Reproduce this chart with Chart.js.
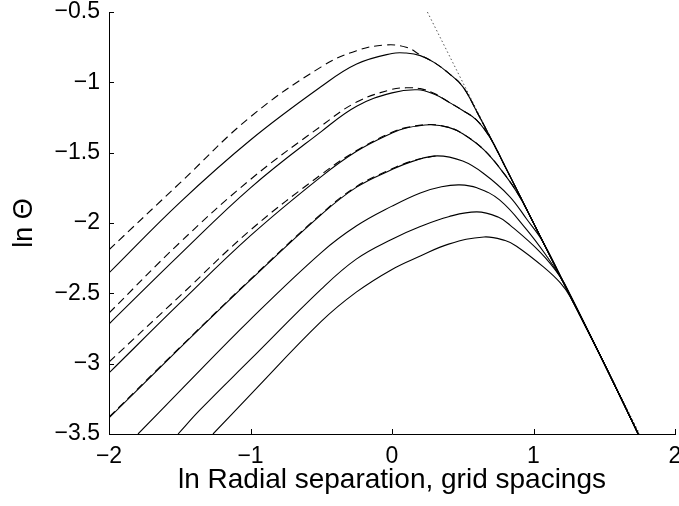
<!DOCTYPE html>
<html>
<head>
<meta charset="utf-8">
<script src="https://cdn.jsdelivr.net/npm/chart.js@4"></script>
<style>
  html, body { margin: 0; padding: 0; background: #fff; }
</style>
</head>
<body>
<canvas id="myChart" width="679" height="506"></canvas>
<script>
// solid curves, top to bottom (x = ln radial separation, y = ln theta)
var solid1X = [-2, -1.5, -1, -0.5, -0.25, 0, 0.1, 0.2, 0.3, 0.4, 0.5, 0.6, 0.75, 1, 1.25, 1.5, 1.74];
var solid1Y = [-2.355, -1.855, -1.41, -1.03, -0.87, -0.795, -0.792, -0.81, -0.86, -0.935, -1.03, -1.21, -1.5, -2.0, -2.5, -3.0, -3.5];
var solid2X = [-2, -1.5, -1, -0.5, -0.25, 0, 0.18, 0.3, 0.4, 0.5, 0.6, 0.7, 0.8, 1, 1.25, 1.5, 1.74];
var solid2Y = [-2.718, -2.225, -1.75, -1.35, -1.17, -1.075, -1.053, -1.085, -1.14, -1.2, -1.27, -1.405, -1.6, -2.0, -2.5, -3.0, -3.5];
var solid3X = [-2, -1.5, -1, -0.5, -0.25, 0, 0.1, 0.27, 0.4, 0.5, 0.65, 0.8, 0.9, 1, 1.25, 1.5, 1.74];
var solid3Y = [-3.066, -2.57, -2.09, -1.67, -1.49, -1.36, -1.325, -1.302, -1.32, -1.365, -1.48, -1.66, -1.81, -2.0, -2.5, -3.0, -3.5];
var solid4X = [-2, -1.5, -1, -0.5, -0.25, 0, 0.15, 0.32, 0.5, 0.65, 0.83, 0.95, 1.07, 1.25, 1.5, 1.74];
var solid4Y = [-3.386, -2.89, -2.405, -1.94, -1.745, -1.62, -1.56, -1.523, -1.56, -1.65, -1.81, -1.97, -2.14, -2.5, -3.0, -3.5];
var solid5X = [-1.795, -1.5, -1, -0.5, -0.25, 0, 0.2, 0.35, 0.48, 0.6, 0.76, 0.95, 1.1, 1.19, 1.25, 1.5, 1.74];
var solid5Y = [-3.5, -3.195, -2.685, -2.21, -2.02, -1.88, -1.786, -1.742, -1.729, -1.75, -1.836, -2.045, -2.245, -2.385, -2.5, -3.0, -3.5];
var solid6X = [-1.512, -1.357, -1, -0.5, -0.25, 0, 0.2, 0.4, 0.6, 0.75, 0.834, 1.05, 1.19, 1.26, 1.5, 1.74];
var solid6Y = [-3.5, -3.329, -2.97, -2.47, -2.255, -2.115, -2.025, -1.955, -1.921, -1.958, -2.015, -2.21, -2.383, -2.51, -3.0, -3.5];
var solid7X = [-1.265, -1, -0.5, -0.25, 0, 0.2, 0.4, 0.65, 0.8, 0.88, 1.07, 1.19, 1.26, 1.5, 1.74];
var solid7Y = [-3.5, -3.22, -2.70, -2.49, -2.33, -2.235, -2.15, -2.099, -2.125, -2.165, -2.312, -2.426, -2.526, -3.0, -3.5];

// dashed curves
var dashAX = [-2, -1.5, -1, -0.5, -0.25, -0.05, 0.1, 0.2, 0.3, 0.4, 0.5, 0.6, 0.75, 1, 1.25, 1.5, 1.74];
var dashAY = [-2.19, -1.717, -1.245, -0.89, -0.775, -0.735, -0.75, -0.805, -0.86, -0.935, -1.03, -1.21, -1.5, -2.0, -2.5, -3.0, -3.5];
var dashBX = [-2, -1.5, -1, -0.5, -0.25, 0, 0.1, 0.2, 0.3, 0.4, 0.5, 0.6, 0.7, 0.8, 1, 1.25, 1.5, 1.74];
var dashBY = [-2.64, -2.14, -1.69, -1.31, -1.14, -1.05, -1.039, -1.045, -1.08, -1.14, -1.2, -1.27, -1.405, -1.6, -2.0, -2.5, -3.0, -3.5];
var dashCX = [-2, -1.5, -1, -0.5, -0.25, 0, 0.1, 0.27, 0.4, 0.5, 0.65, 0.8, 0.9, 1, 1.25, 1.5, 1.74];
var dashCY = [-2.988, -2.52, -2.05, -1.655, -1.485, -1.355, -1.322, -1.3, -1.32, -1.365, -1.48, -1.66, -1.81, -2.0, -2.5, -3.0, -3.5];
var dashDX = [-2, -1.5, -1, -0.5, -0.25, 0, 0.15, 0.32];
var dashDY = [-3.38, -2.885, -2.4, -1.935, -1.74, -1.615, -1.557, -1.521];

// dotted asymptote
var asymX = [0.25, 1.75];
var asymY = [-0.5, -3.5];

var xTicks = [-2, -1, 0, 1, 2];
var yTicks = [-3.5, -3, -2.5, -2, -1.5, -1, -0.5];

function pts(xs, ys) {
    return xs.map(function (x, i) { return { x: x, y: ys[i] }; });
}
function series(xs, ys, dash, color, width) {
    return {
        data: pts(xs, ys),
        borderColor: color || '#000',
        borderWidth: width || 1.1,
        borderDash: dash || [],
        pointRadius: 0,
        fill: false,
        tension: 0.4
    };
}

var datasets = [
    series(solid1X, solid1Y), series(solid2X, solid2Y), series(solid3X, solid3Y),
    series(solid4X, solid4Y), series(solid5X, solid5Y), series(solid6X, solid6Y),
    series(solid7X, solid7Y),
    series(dashAX, dashAY, [8, 5]), series(dashBX, dashBY, [8, 5]),
    series(dashCX, dashCY, [8, 5]), series(dashDX, dashDY, [8, 5]),
    series(asymX, asymY, [1.5, 2.5], '#555', 1)
];

var font = "'Liberation Sans', Arial, Helvetica, sans-serif";
function minus(v) { return String(v).replace('-', '\u2212'); }

// matlab style ticks pointing into the plot
var innerTicks = {
    id: 'innerTicks',
    afterDraw: function (chart) {
        var ctx = chart.ctx, xs = chart.scales.x, ys = chart.scales.y, a = chart.chartArea;
        ctx.save();
        ctx.strokeStyle = '#000';
        ctx.lineWidth = 1;
        ctx.beginPath();
        xTicks.forEach(function (v) {
            var px = Math.round(xs.getPixelForValue(v)) + 0.5;
            ctx.moveTo(px, a.bottom);
            ctx.lineTo(px, a.bottom - 5);
        });
        yTicks.forEach(function (v) {
            var py = Math.round(ys.getPixelForValue(v)) + 0.5;
            ctx.moveTo(a.left, py);
            ctx.lineTo(a.left + 5, py);
        });
        ctx.stroke();
        ctx.restore();
    }
};

var ctx = document.getElementById('myChart');
var myChart = new Chart(ctx, {
    type: 'line',
    data: { datasets: datasets },
    plugins: [innerTicks],
    options: {
        responsive: false,
        animation: false,
        devicePixelRatio: 1,
        layout: { padding: { top: 12, right: 4, left: 0, bottom: 0 } },
        plugins: { legend: { display: false }, tooltip: { enabled: false } },
        scales: {
            x: {
                type: 'linear', min: -2, max: 2,
                grid: { display: false, drawTicks: false },
                border: { display: true, color: '#000', width: 1 },
                ticks: { stepSize: 1, color: '#000', padding: 9, maxRotation: 0, autoSkip: false,
                    font: { family: font, size: 23 }, callback: minus },
                title: { display: true, text: 'ln Radial separation, grid spacings', color: '#000',
                    font: { family: font, size: 28 }, padding: { top: 0, bottom: 9 } },
                afterFit: function (s) {
                    s.height = 72;
                    s.paddingLeft = 0; s.paddingRight = 0;
                }
            },
            y: {
                type: 'linear', min: -3.5, max: -0.5,
                grid: { display: false, drawTicks: false },
                border: { display: true, color: '#000', width: 1 },
                ticks: { stepSize: 0.5, color: '#000', padding: 9, autoSkip: false,
                    font: { family: font, size: 23 }, callback: minus },
                title: { display: true, text: 'ln \u0398', color: '#000',
                    font: { family: font, size: 27 }, padding: { top: 8, bottom: 0 } },
                afterFit: function (s) {
                    s.width = 109;
                    s.paddingTop = 0; s.paddingBottom = 0;
                }
            }
        }
    }
});

window.chart = myChart;
</script>
</body>
</html>
